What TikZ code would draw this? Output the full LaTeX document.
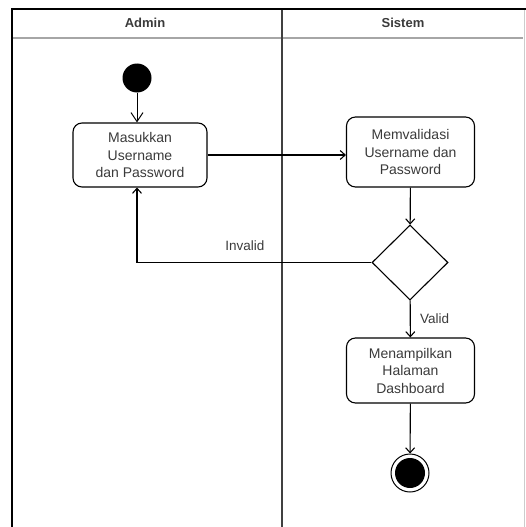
\documentclass[tikz,border=0pt]{standalone}
\usepackage{fontspec}
\setmainfont{Liberation Sans}
\usetikzlibrary{shapes.geometric,arrows.meta}
\definecolor{txt}{HTML}{3A3A3A}
\begin{document}
\begin{tikzpicture}[x=1pt,y=-1pt,
  lane/.style={draw=black,line width=1.8pt},
  action/.style={draw=black,line width=1.1pt,rounded corners=9pt,align=center,
    font=\fontsize{14}{17.5}\selectfont,text=txt,inner sep=0pt},
  decision/.style={draw=black,line width=1.1pt,diamond,minimum width=76pt,minimum height=75pt,inner sep=0pt},
  flow/.style={draw=black,line width=1.1pt,-{Straight Barb[length=5pt,width=9pt]}},
  flowopen/.style={draw=black,line width=1pt,-{Straight Barb[length=9pt,width=12pt]}},
  lbl/.style={font=\fontsize{13.5}{16}\selectfont,text=txt},
  head/.style={font=\bfseries\fontsize{13}{16}\selectfont,text=txt}]
\useasboundingbox (0,0) rectangle (526,527);
% swimlane frame
\draw[lane] (12,527) -- (12,9) -- (526,9);
\draw[gray!70,line width=1.2pt] (13,38) -- (523,38);
\draw[gray!40,line width=1pt] (524,10) -- (524,527);
\draw[black!75,line width=1.2pt] (282,10) -- (282,527);
\node[head] (hA) at (145,23) {Admin};
\node[head] (hS) at (403,23) {Sistem};
% nodes
\node[circle,fill=black,minimum size=29pt,inner sep=0pt] (start) at (137,78) {};
\node[action,minimum width=134pt,minimum height=64pt] (input) at (140,155) {Masukkan\\Username\\dan Password};
\node[action,minimum width=128pt,minimum height=70pt] (valid) at (410.5,152) {Memvalidasi\\Username dan\\Password};
\node[decision] (dec) at (410,262.5) {};
\node[action,minimum width=128pt,minimum height=65pt] (dash) at (410.5,370.5) {Menampilkan\\Halaman\\Dashboard};
\node[circle,draw=black,line width=1pt,minimum size=38pt,inner sep=0pt] (endo) at (410,473) {};
\node[circle,fill=black,minimum size=30pt,inner sep=0pt] (endi) at (410,473) {};
% connectors
\draw[flowopen] (start) -- (input.north -| start);
\draw[flow] (input.east) -- (input.east -| valid.west);
\draw[flow] (valid) -- (dec);
\draw[flow] (dec.west) -| (input.south -| start) node[lbl,pos=0.27,above=8pt] (inv) {Invalid};
\draw[flow] (dec) -- (dash) node[lbl,midway,right=6pt] (ok) {Valid};
\draw[flow] (dash) -- (endo);
\end{tikzpicture}
\end{document}
